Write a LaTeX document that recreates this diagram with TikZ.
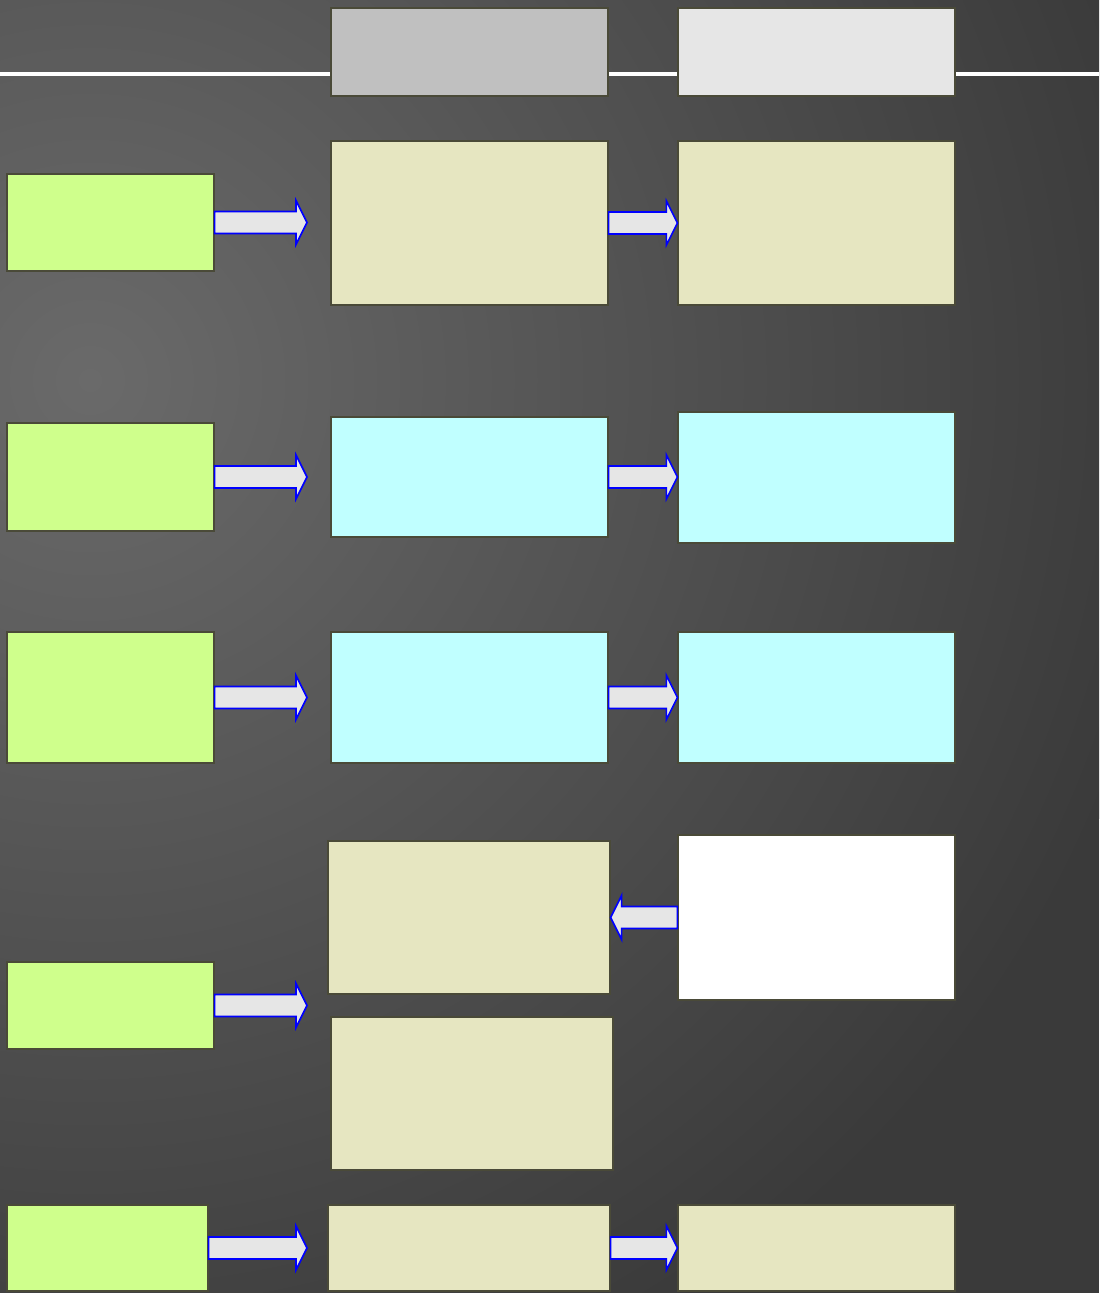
\documentclass[tikz,border=0pt]{standalone}
\usetikzlibrary{calc,fit}
\definecolor{bglight}{HTML}{6A6A6A}
\definecolor{bgdark}{HTML}{3A3A3A}
\definecolor{leaf}{HTML}{CFFF8C}
\definecolor{sand}{HTML}{E6E6C1}
\definecolor{aqua}{HTML}{C0FFFF}
\definecolor{hdrgray}{HTML}{C0C0C0}
\definecolor{hdrlight}{HTML}{E6E6E6}
\definecolor{edge}{HTML}{4A4A38}
\definecolor{arrowfill}{HTML}{E6E6E6}
\tikzset{
  box/.style={draw=edge, line width=0.6pt, inner sep=0pt, rectangle},
  inbox/.style={box, fill=leaf},
  sandbox/.style={box, fill=sand},
  aquabox/.style={box, fill=aqua},
  whitebox/.style={box, fill=white},
  barrow/.style={draw=blue, fill=arrowfill, line width=0.8pt, line join=miter},
}
% block arrow from #1 to #2 (both at the same height)
\newcommand{\blockarrow}[2]{%
  \path[barrow] let \p1=(#1), \p2=(#2), \n1={sign(\x2-\x1)} in
    (\x1,\y1+5.5pt) -- (\x2-\n1*5.5pt,\y1+5.5pt) -- (\x2-\n1*5.5pt,\y1+11pt)
    -- (\x2,\y1) -- (\x2-\n1*5.5pt,\y1-11pt) -- (\x2-\n1*5.5pt,\y1-5.5pt)
    -- (\x1,\y1-5.5pt) -- cycle;}
\begin{document}
\begin{tikzpicture}[x=0.5pt, y=-0.5pt]
\useasboundingbox (0,0) rectangle (1099,1293);
% background
\begin{scope}
  \clip (0,0) rectangle (1099,1293);
  \fill[bgdark] (0,0) rectangle (1099,1293);
  \shade[inner color=bglight, outer color=bgdark] (90,380) circle (1100);
\end{scope}
% header rule
\draw[white, line width=1.6pt] (0,74) -- (1099,74);
% header boxes
\node[box, fill=hdrgray, fit={(331,8) (608,96)}] (hA) {};
\node[box, fill=hdrlight, fit={(678,8) (955,96)}] (hB) {};
% row 1
\node[inbox, fit={(7,174) (214,271)}] (g1) {};
\node[sandbox, fit={(331,141) (608,305)}] (a1) {};
\node[sandbox, fit={(678,141) (955,305)}] (b1) {};
% row 2
\node[inbox, fit={(7,423) (214,531)}] (g2) {};
\node[aquabox, fit={(331,417) (608,537)}] (a2) {};
\node[aquabox, fit={(678,412) (955,543)}] (b2) {};
% row 3
\node[inbox, fit={(7,632) (214,763)}] (g3) {};
\node[aquabox, fit={(331,632) (608,763)}] (a3) {};
\node[aquabox, fit={(678,632) (955,763)}] (b3) {};
% row 4
\node[sandbox, fit={(328,841) (610,994)}] (a4) {};
\node[whitebox, fit={(678,835) (955,1000)}] (b4) {};
\node[inbox, fit={(7,962) (214,1049)}] (g4) {};
\node[sandbox, fit={(331,1017) (613,1170)}] (a4b) {};
% row 5
\node[inbox, fit={(7,1205) (208,1291)}] (g5) {};
\node[sandbox, fit={(328,1205) (610,1291)}] (a5) {};
\node[sandbox, fit={(678,1205) (955,1291)}] (b5) {};
% arrow tips
\coordinate (t1) at (307,222);
\coordinate (t2) at (307,477);
\coordinate (t3) at (307,697);
\coordinate (t4) at (307,1005);
\coordinate (t5) at (307,1248);
% connectors
\blockarrow{g1.east}{t1}
\blockarrow{a1.east}{b1.west}
\blockarrow{g2.east}{t2}
\blockarrow{a2.east}{b2.west}
\blockarrow{g3.east}{t3}
\blockarrow{a3.east}{b3.west}
\blockarrow{b4.west}{a4.east}
\blockarrow{g4.east}{t4}
\blockarrow{g5.east}{t5}
\blockarrow{a5.east}{b5.west}
\end{tikzpicture}
\end{document}
